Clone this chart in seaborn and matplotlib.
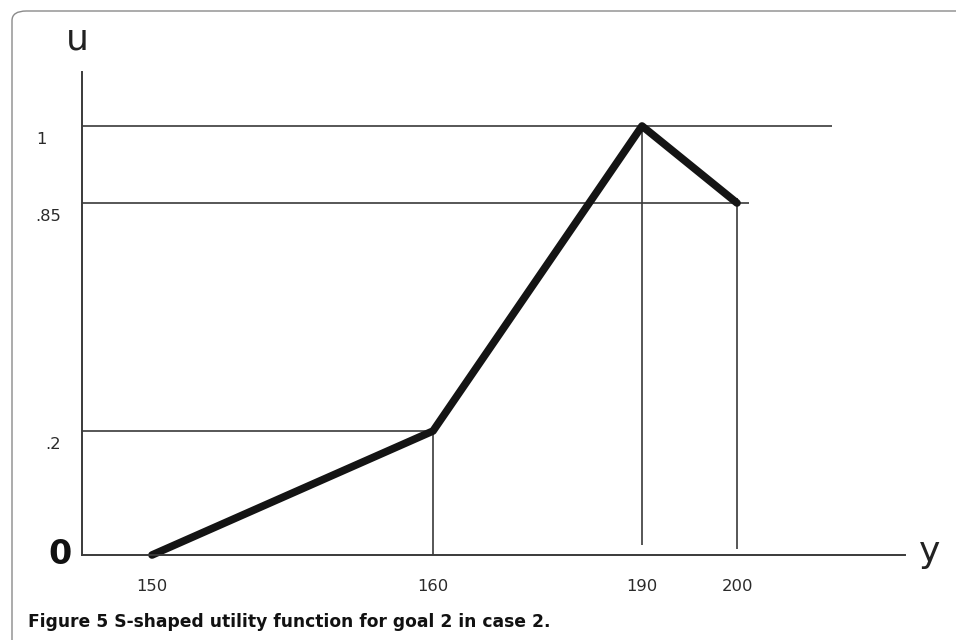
import numpy as np
import matplotlib
matplotlib.use('Agg')
import matplotlib.pyplot as plt
import matplotlib.transforms as mtransforms
from matplotlib.patches import FancyBboxPatch
import seaborn as sns

# utility curve
y_vals = [150, 160, 190, 200]
u_vals = [0.0, 0.2, 1.0, 0.85]
x_tick_labels = ['150', '160', '190', '200']
u_ticks = [0.2, 0.85, 1.0]
u_tick_labels = ['.2', '.85', '1']
# guide lines: horizontal ones run from the u axis to these y values,
# vertical ones drop from the curve to these u values
h_guide_u = [0.2, 0.85, 1.0]
h_guide_end = [160, 201.3, 210]
v_guide_y = [160, 190, 200]
v_guide_top = [0.2, 1.0, 0.86]
v_guide_bottom = [0.0, 0.016, 0.01]
caption = 'Figure 5 S-shaped utility function for goal 2 in case 2.'

# the hand-drawn axes are not evenly spaced: piecewise scale
x_knots = [100, 150, 160, 190, 200, 260]
x_pix = [-1253, 152, 433, 642, 737, 1307]
u_knots = [-1.0, 0.0, 0.2, 0.85, 1.0, 2.0]
u_pix = [-535, 85, 209, 437, 514, 1027]

def fx(v):
    return np.interp(v, x_knots, x_pix)

def fx_inv(p):
    return np.interp(p, x_pix, x_knots)

def fu(v):
    return np.interp(v, u_knots, u_pix)

def fu_inv(p):
    return np.interp(p, u_pix, u_knots)

sns.set_theme(style='white')
plt.rcParams['font.family'] = ['DejaVu Sans']

fig = plt.figure(figsize=(9.56, 6.4), dpi=100)
fig.patch.set_facecolor('white')

# rounded figure frame, running off the right and bottom edges
frame = FancyBboxPatch((12 / 956, -0.2), 1.2, 1.2 - 11 / 640, transform=fig.transFigure,
                       boxstyle='round,pad=0,rounding_size=0.015',
                       facecolor='none', edgecolor='#8a8a8a', linewidth=1.0, clip_on=False)
fig.patches.append(frame)

ax = fig.add_axes([82 / 956, 85 / 640, 823 / 956, 483 / 640])
ax.set_xscale('function', functions=(fx, fx_inv))
ax.set_yscale('function', functions=(fu, fu_inv))
ax.set_xlim(fx_inv(82), fx_inv(905))
ax.set_ylim(0, fu_inv(568))
ax.patch.set_alpha(0)

line_col = '#3a3a3a'
for s in ['top', 'right']:
    ax.spines[s].set_visible(False)
for s in ['left', 'bottom']:
    ax.spines[s].set_color(line_col)
    ax.spines[s].set_linewidth(1.4)

x0 = ax.get_xlim()[0]
ax.hlines(h_guide_u, x0, h_guide_end, color=line_col, linewidth=1.2)
ax.vlines(v_guide_y, v_guide_bottom, v_guide_top, color=line_col, linewidth=1.2)

sns.lineplot(x=y_vals, y=u_vals, ax=ax, color='#141414', linewidth=5.5,
             solid_capstyle='round', solid_joinstyle='round', clip_on=False)

ax.set_xticks(y_vals, x_tick_labels)
ax.set_yticks(u_ticks, u_tick_labels)
ax.minorticks_off()
ax.tick_params(axis='x', length=0, pad=17, labelsize=11.8, labelcolor='#2a2a2a')
ax.tick_params(axis='y', length=0, pad=34, labelsize=11.8, labelcolor='#2a2a2a')
label_shift_px = [10, 0, 1]
for lab, dx in zip(ax.get_yticklabels(), label_shift_px):
    lab.set_horizontalalignment('left')
    shift = mtransforms.ScaledTranslation(dx / 100, -12 / 100, fig.dpi_scale_trans)
    lab.set_transform(lab.get_transform() + shift)
ax.set_xlabel('')
ax.set_ylabel('')

ax.text(-10 / 823, 0, '0', transform=mtransforms.blended_transform_factory(ax.transAxes, ax.transData),
        ha='right', va='center', fontsize=24, fontweight='bold', color='#111111')
fig.text(77 / 956, 1 - 40 / 640, 'u', ha='center', va='center', fontsize=26, color='#222222')
fig.text(930 / 956, 1 - 552 / 640, 'y', ha='center', va='center', fontsize=26, color='#222222')
fig.text(28 / 956, 1 - 622 / 640, caption, ha='left', va='center', fontsize=12.3,
         fontweight='bold', color='#111111')

fig.savefig('out.png', dpi=100)
